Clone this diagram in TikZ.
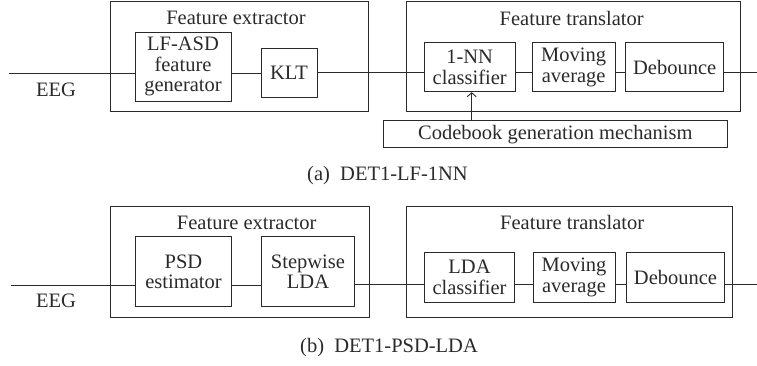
\documentclass[tikz,border=0pt]{standalone}
\usepackage{fontspec}
\setmainfont{Liberation Serif}
\usetikzlibrary{arrows.meta}
\definecolor{ink}{HTML}{2A2A2A}
\tikzset{
  blk/.style={draw=ink, line width=0.9pt, inner sep=0pt, align=center, text=ink,
    font=\fontsize{20.5}{20.5}\selectfont},
  lbl/.style={inner sep=0pt, text=ink, font=\fontsize{20.5}{20.5}\selectfont},
  wire/.style={draw=ink, line width=0.9pt},
}
\begin{document}
\begin{tikzpicture}[x=1pt,y=-1pt]
\useasboundingbox (0,0) rectangle (757,366);
% ---------- (a) ----------
\node[blk, minimum width=258.7pt, minimum height=110pt] (fe1) at (239.4,56) {};
\node[lbl] (fe1t) at (236,18) {Feature extractor};
\node[blk, minimum width=96pt, minimum height=69pt] (lfasd) at (183,66.5) {LF-ASD\\feature\\generator};
\node[blk, minimum width=56pt, minimum height=49pt] (klt) at (289,72.5) {KLT};
\node[blk, minimum width=334.7pt, minimum height=110pt] (ft1) at (573.4,56) {};
\node[lbl] (ft1t) at (571.7,18) {Feature translator};
\node[blk, minimum width=90.7pt, minimum height=49pt] (nn) at (469.7,67.2) {1-NN\\classifier};
\node[blk, minimum width=82.7pt, minimum height=49pt] (ma1) at (573.7,67.2) {Moving\\average};
\node[blk, minimum width=98pt, minimum height=49pt] (db1) at (674.7,67.2) {Debounce};
\node[blk, minimum width=344pt, minimum height=26.7pt] (cb) at (555.3,134.3) {Codebook generation mechanism};
\node[lbl] (eeg1) at (56,90) {EEG};
\node[lbl] (capa) at (387.5,176) {(a)\enspace DET1-LF-1NN};
\coordinate (in1) at (9,73.5);
\coordinate (s1) at (0,72);
\coordinate (out1) at (757,72);
\draw[wire] (in1) -- (in1 -| lfasd.west);
\draw[wire] (lfasd.east |- in1) -- (klt.west |- in1);
\draw[wire] (klt.east |- s1) -- (nn.west |- s1);
\draw[wire] (nn.east |- s1) -- (ma1.west |- s1);
\draw[wire] (ma1.east |- s1) -- (db1.west |- s1);
\draw[wire] (db1.east |- s1) -- (out1);
\draw[wire, -{Straight Barb[length=4pt,width=9pt]}] ([xshift=2pt]nn.south |- cb.north) -- ([xshift=2pt]nn.south);
% ---------- (b) ----------
\node[blk, minimum width=259.3pt, minimum height=111pt] (fe2) at (239.7,262.2) {};
\node[lbl] (fe2t) at (246.7,222.7) {Feature extractor};
\node[blk, minimum width=95.6pt, minimum height=70pt] (psd) at (183.5,271.7) {PSD\\estimator};
\node[blk, minimum width=93.4pt, minimum height=70pt] (sl) at (308,271.7) {Stepwise\\LDA};
\node[blk, minimum width=326pt, minimum height=111pt] (ft2) at (569.7,262.2) {};
\node[lbl] (ft2t) at (572.2,222.7) {Feature translator};
\node[blk, minimum width=90.4pt, minimum height=49.3pt] (lda) at (469.5,277.3) {LDA\\classifier};
\node[blk, minimum width=82pt, minimum height=49.3pt] (ma2) at (574,277.3) {Moving\\average};
\node[blk, minimum width=98.4pt, minimum height=49.3pt] (db2) at (675.5,277.3) {Debounce};
\node[lbl] (eeg2) at (56,300.7) {EEG};
\node[lbl] (capb) at (389,348) {(b)\enspace DET1-PSD-LDA};
\coordinate (in2) at (11,285.5);
\coordinate (s2) at (0,284);
\coordinate (out2) at (757,284);
\draw[wire] (in2) -- (in2 -| psd.west);
\draw[wire] (psd.east |- in2) -- (sl.west |- in2);
\draw[wire] (sl.east |- s2) -- (lda.west |- s2);
\draw[wire] (lda.east |- s2) -- (ma2.west |- s2);
\draw[wire] (ma2.east |- s2) -- (db2.west |- s2);
\draw[wire] (db2.east |- s2) -- (out2);
\end{tikzpicture}
\end{document}
